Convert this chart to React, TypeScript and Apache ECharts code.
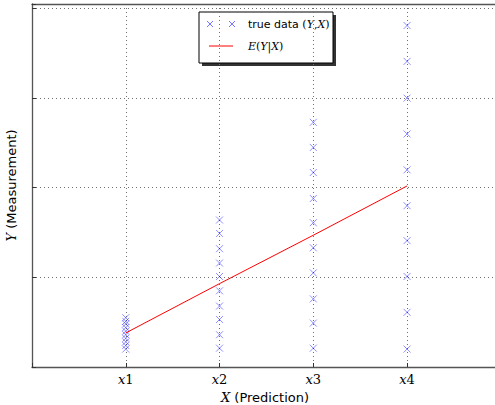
import React, { useEffect, useRef } from "react";
import * as echarts from "echarts";

const categories = ["x1", "x2", "x3", "x4"];
const x1Values = [0.2, 0.24, 0.28, 0.32, 0.36, 0.4, 0.44, 0.48, 0.51, 0.55];
const x2Values = [0.21, 0.36, 0.53, 0.68, 0.85, 1.01, 1.16, 1.32, 1.49, 1.64];
const x3Values = [0.21, 0.49, 0.76, 1.05, 1.33, 1.61, 1.88, 2.17, 2.45, 2.73];
const x4Values = [0.2, 0.61, 1.01, 1.41, 1.8, 2.2, 2.6, 3.0, 3.41, 3.81];
const meanValues = [0.38, 0.93, 1.47, 2.02];

const groups = [x1Values, x2Values, x3Values, x4Values];

export default function App() {
  const ref = useRef<HTMLDivElement>(null);
  useEffect(() => {
    if (!ref.current) return;
    const chart = echarts.init(ref.current, null, { renderer: "svg" });
    const scatterData: number[][] = [];
    groups.forEach((g, i) => g.forEach((v) => scatterData.push([i + 1, v])));
    const lineData = meanValues.map((v, i) => [i + 1, v]);
    const gridStyle = { color: "#707070", width: 1, type: [1, 3] as any };
    const spine = { show: true, lineStyle: { color: "#555", width: 1.3 } };
    chart.setOption({
      animation: false,
      backgroundColor: "#fff",
      grid: {
        left: 32,
        top: 4,
        bottom: 38,
        right: -3,
        containLabel: false,
        outerBoundsMode: "none",
        show: false,
      },
      xAxis: [
        {
          type: "value",
          min: 0,
          max: 4.97,
          interval: 1,
          name: "{i|X} (Prediction)",
          nameLocation: "middle",
          nameGap: 21,
          nameTextStyle: {
            fontFamily: "DejaVu Sans",
            fontSize: 13,
            color: "#000",
            rich: {
              i: { fontFamily: "DejaVu Serif", fontStyle: "italic", fontSize: 13, color: "#000" },
            },
          },
          axisLine: spine,
          axisTick: { show: true, inside: true, length: 4, lineStyle: { color: "#333" } },
          splitLine: { show: true, lineStyle: gridStyle },
          axisLabel: {
            margin: 6,
            color: "#000",
            showMaxLabel: false,
            formatter: (v: number) => {
              const c = categories[Math.round(v) - 1];
              if (!c || v === 0 || v > 4.5) return "";
              return "{i|x}{n|" + c.slice(1) + "}";
            },
            rich: {
              i: { fontFamily: "DejaVu Serif", fontStyle: "italic", fontSize: 13, color: "#000" },
              n: { fontFamily: "DejaVu Serif", fontSize: 13, color: "#000" },
            },
          },
        },
        {
          type: "value",
          position: "top",
          min: 0,
          max: 4.97,
          interval: 1,
          axisLine: spine,
          axisTick: { show: false },
          splitLine: { show: false },
          axisLabel: { show: false },
        },
      ],
      yAxis: {
        type: "value",
        min: 0,
        max: 4.05,
        interval: 1,
        name: "{i|Y} (Measurement)",
        nameLocation: "middle",
        nameGap: 14,
        nameTextStyle: {
          fontFamily: "DejaVu Sans",
          fontSize: 13,
          color: "#000",
          rich: {
            i: { fontFamily: "DejaVu Serif", fontStyle: "italic", fontSize: 13, color: "#000" },
          },
        },
        axisLine: spine,
        axisTick: { show: true, inside: true, length: 4, lineStyle: { color: "#333" } },
        splitLine: { show: true, lineStyle: gridStyle },
        axisLabel: { show: false },
      },
      series: [
        {
          type: "scatter",
          data: scatterData,
          symbol: "path://M0,0L10,10M10,0L0,10",
          symbolSize: 7,
          itemStyle: { color: "none", borderColor: "rgba(0,0,255,0.55)", borderWidth: 1 },
        },
        {
          type: "line",
          data: lineData,
          symbol: "none",
          lineStyle: { color: "#ff0000", width: 1 },
        },
      ],
      graphic: [
        { type: "rect", shape: { x: 202, y: 15, width: 134, height: 51 }, style: { fill: "#333" } },
        {
          type: "rect",
          shape: { x: 199, y: 12, width: 134, height: 51 },
          style: { fill: "#fff", stroke: "#000", lineWidth: 1 },
        },
        { type: "line", shape: { x1: 207, y1: 21, x2: 213, y2: 27 }, style: { stroke: "rgba(0,0,255,0.55)", lineWidth: 1 } },
        { type: "line", shape: { x1: 213, y1: 21, x2: 207, y2: 27 }, style: { stroke: "rgba(0,0,255,0.55)", lineWidth: 1 } },
        { type: "line", shape: { x1: 229, y1: 21, x2: 235, y2: 27 }, style: { stroke: "rgba(0,0,255,0.55)", lineWidth: 1 } },
        { type: "line", shape: { x1: 235, y1: 21, x2: 229, y2: 27 }, style: { stroke: "rgba(0,0,255,0.55)", lineWidth: 1 } },
        { type: "line", shape: { x1: 209, y1: 46, x2: 233, y2: 46 }, style: { stroke: "#ff0000", lineWidth: 1 } },
        {
          type: "text",
          x: 248,
          y: 24,
          style: {
            text: "{a|true data }{b|(}{c|Y}{b|,}{c|X}{b|)}",
            verticalAlign: "middle",
            rich: {
              a: { fontFamily: "DejaVu Sans", fontSize: 11, fill: "#000" },
              b: { fontFamily: "DejaVu Serif", fontSize: 11, fill: "#000" },
              c: { fontFamily: "DejaVu Serif", fontStyle: "italic", fontSize: 11, fill: "#000" },
            },
          },
        },
        {
          type: "text",
          x: 248,
          y: 46,
          style: {
            text: "{c|E}{b|(}{c|Y}{b||}{c|X}{b|)}",
            verticalAlign: "middle",
            rich: {
              b: { fontFamily: "DejaVu Serif", fontSize: 11, fill: "#000" },
              c: { fontFamily: "DejaVu Serif", fontStyle: "italic", fontSize: 11, fill: "#000" },
            },
          },
        },
      ],
    });
    return () => chart.dispose();
  }, []);
  return <div ref={ref} style={{ width: 495, height: 405, position: "absolute", left: 0, top: 0 }} />;
}
